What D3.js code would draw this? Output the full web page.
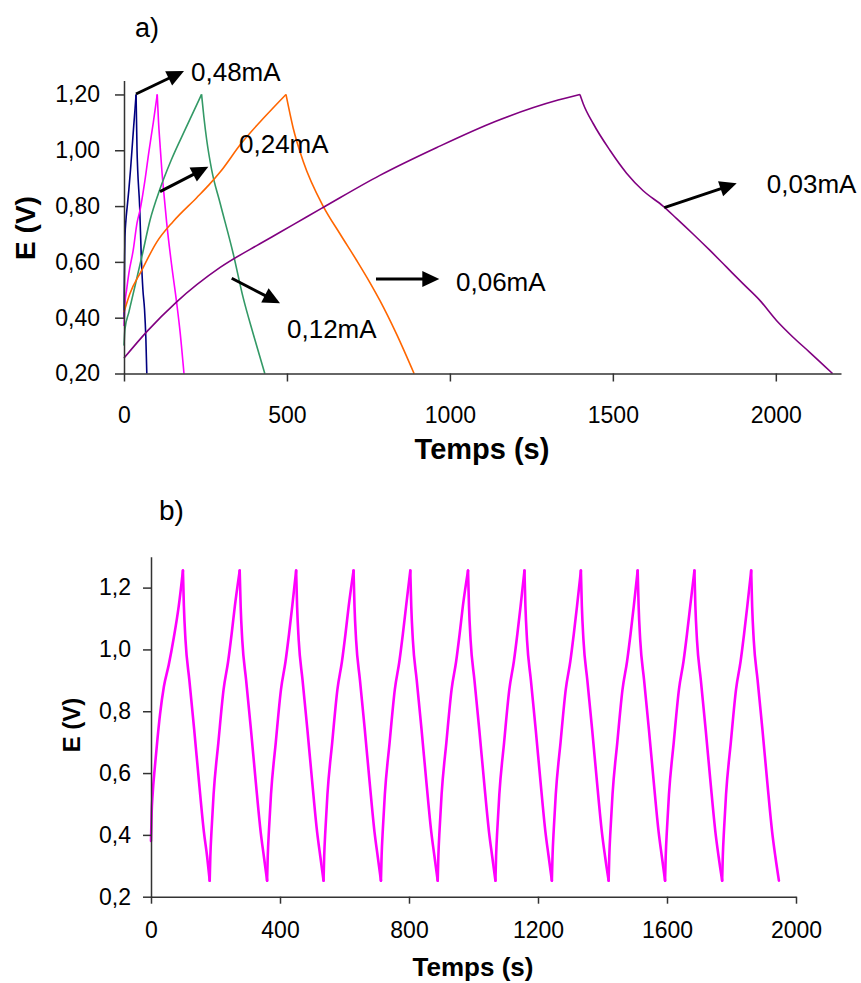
<!DOCTYPE html>
<html>
<head>
<meta charset="utf-8">
<script src="https://cdn.jsdelivr.net/npm/d3@7"></script>
<style>
  body { margin: 0; background: #fff; }
  svg { display: block; }
  text { font-family: "Liberation Sans", Arial, sans-serif; fill: #000; }
</style>
</head>
<body>
<svg id="chart" width="861" height="983"></svg>
<script>
// ---- Panel a) : charge/discharge at five currents, [time (s), E (V)] ----
const seriesNames = ["0,48mA", "0,24mA", "0,12mA", "0,06mA", "0,03mA"];
const seriesColors = ["#000080", "#ff00ff", "#339966", "#ff6600", "#800080"];

const curve048 = [[0,0.40],[1,0.52],[2,0.62],[3,0.69],[6,0.75],[10,0.80],[15,0.86],[20,0.93],[25,1.01],[30,1.09],[34,1.15],[37,1.20],
  [40,1.00],[42,0.93],[48,0.80],[53,0.62],[58,0.50],[63,0.43],[67,0.33],[70,0.20]];
const curve024 = [[0,0.37],[3,0.45],[8,0.50],[15,0.56],[28,0.64],[40,0.74],[50,0.79],[64,0.89],[77,1.00],[90,1.10],[102,1.20],
  [106,1.10],[110,1.03],[116,0.93],[122,0.85],[131,0.74],[146,0.59],[162,0.45],[172,0.35],[184,0.20]];
const curve012 = [[0,0.30],[3,0.36],[15,0.42],[35,0.52],[55,0.62],[80,0.75],[110,0.86],[145,0.965],[190,1.08],[238,1.20],
  [245,1.12],[254,1.035],[269,0.93],[295,0.81],[335,0.63],[366,0.47],[397,0.34],[432,0.20]];
const curve006 = [[0,0.42],[18,0.486],[54,0.569],[100,0.67],[151,0.745],[223,0.83],[260,0.875],[295,0.922],[360,1.025],[432,1.12],[497,1.20],
  [519,1.08],[550,0.96],[611,0.80],[663,0.70],[714,0.605],[755,0.525],[785,0.462],[836,0.342],[890,0.20]];
const curve003 = [[0,0.255],[70,0.35],[160,0.455],[295,0.58],[417,0.665],[480,0.707],[560,0.761],[611,0.795],[785,0.91],[960,1.01],[1143,1.105],[1332,1.18],[1399,1.20],
  [1409,1.167],[1440,1.095],[1491,1.0],[1542,0.918],[1593,0.855],[1654,0.80],[1695,0.756],[1746,0.70],[1798,0.641],[1849,0.581],[1900,0.521],[1951,0.462],[2002,0.39],[2053,0.33],[2104,0.276],[2174,0.20]];
const curvesA = [curve048, curve024, curve012, curve006, curve003];

const xTicksA = [0, 500, 1000, 1500, 2000];
const yTicksA = [0.2, 0.4, 0.6, 0.8, 1.0, 1.2];

// Annotation arrows [t0, v0, t1, v1] and label anchors [t, v], in data units
const arrowsA = [
  [36.8, 1.2016, 184.1, 1.284],
  [110.5, 0.8515, 258.7, 0.9411],
  [330.5, 0.5412, 478.7, 0.4516],
  [773.2, 0.5387, 967.5, 0.5387],
  [1657.8, 0.7942, 1880, 0.8816]
];
const labelPosA = [[205.6, 1.248], [352.9, 0.990], [500.1, 0.327], [1018.7, 0.4956], [1972.3, 0.8468]];
const labelTextA = ["0,48mA", "0,24mA", "0,12mA", "0,06mA", "0,03mA"];

// ---- Panel b) : repeated cycling at one current ----
// first charge from the rest potential, [time (s), E (V)]
const firstCharge = [[0,0.38],[2,0.47],[5,0.53],[12,0.62],[20,0.71],[28,0.79],[40,0.88],[55,0.95],[71,1.04],[86,1.14],[99,1.255]];
// voltage levels and the times at which each half-cycle passes them
const chargeLevels = [0.252, 0.33, 0.42, 0.53, 0.70, 0.87, 0.96, 1.05, 1.14, 1.255];
const dischargeLevels = [1.255, 1.14, 1.03, 0.90, 0.74, 0.57, 0.41, 0.33, 0.252];
const dischargeTimes = [
  [99,102,107,119,134,149,164,174,182],
  [275,278,283,295,310,325,340,350,360],
  [450,453,458,470,485,500,515,525,535],
  [628,631,636,648,663,678,693,703,713],
  [804,807,812,824,839,854,869,879,889],
  [983,986,991,1003,1018,1033,1048,1058,1068],
  [1158,1161,1166,1178,1193,1208,1223,1233,1243],
  [1333,1336,1341,1353,1368,1383,1398,1408,1419],
  [1509,1512,1517,1529,1544,1559,1574,1584,1594],
  [1685,1688,1693,1705,1720,1735,1750,1760,1771],
  [1861,1864,1869,1881,1896,1911,1926,1936,1947]
];
const chargeTimes = [
  [182,184,188,194,209,225,239,250,260,275],
  [360,362,366,372,387,403,417,428,438,450],
  [535,537,541,547,562,578,592,603,613,628],
  [713,715,719,725,740,756,770,781,791,804],
  [889,891,895,901,916,932,946,957,967,983],
  [1068,1070,1074,1080,1095,1111,1125,1136,1146,1158],
  [1243,1245,1249,1255,1270,1286,1300,1311,1321,1333],
  [1419,1421,1425,1431,1446,1462,1476,1487,1497,1509],
  [1594,1596,1600,1606,1621,1637,1651,1662,1672,1685],
  [1771,1773,1777,1783,1798,1814,1828,1839,1849,1861]
];
const xTicksB = [0, 400, 800, 1200, 1600, 2000];
const yTicksB = [0.2, 0.4, 0.6, 0.8, 1.0, 1.2];

// ---- drawing ----
const svg = d3.select("#chart");
svg.append("rect").attr("width", 861).attr("height", 983).attr("fill", "#fff");

const loc = d3.formatLocale({ decimal: ",", thousands: "", grouping: [3], currency: ["", ""] });
const axisColor = "#333";

function styleAxis(g, fontSize) {
  g.selectAll("path.domain").attr("stroke", axisColor).attr("stroke-width", 1.5);
  g.selectAll(".tick line").attr("stroke", axisColor).attr("stroke-width", 1.5);
  g.selectAll(".tick text").attr("font-size", fontSize)
    .attr("font-family", "'Liberation Sans', Arial, sans-serif").attr("fill", "#000");
}

// split a charge/discharge run at its top so each branch is smoothed on its own
function branches(c) {
  const i = d3.maxIndex(c, d => d[1]);
  return [c.slice(0, i + 1), c.slice(i)];
}

// Panel a)
const xA = d3.scaleLinear().domain([0, 2200]).range([124, 841]);
const yA = d3.scaleLinear().domain([0.2, 1.25]).range([373.5, 80.5]);

const lineA = d3.line().x(d => xA(d[0])).y(d => yA(d[1])).curve(d3.curveMonotoneX);
const gA = svg.append("g");
curvesA.forEach((c, i) => {
  branches(c).forEach(b => {
    gA.append("path").datum(b).attr("d", lineA)
      .attr("fill", "none").attr("stroke", seriesColors[i]).attr("stroke-width", 1.6)
      .attr("stroke-linejoin", "round");
  });
});

const axAx = svg.append("g").attr("transform", `translate(0,${yA(0.2)})`)
  .call(d3.axisBottom(xA).tickValues(xTicksA).tickFormat(d3.format("d")).tickSize(8).tickSizeOuter(0).tickPadding(25));
styleAxis(axAx, 23);
const ayAx = svg.append("g").attr("transform", `translate(${xA(0)},0)`)
  .call(d3.axisLeft(yA).tickValues(yTicksA).tickFormat(loc.format(".2f")).tickSize(9).tickSizeOuter(0).tickPadding(15));
styleAxis(ayAx, 23);

function arrow(g, x0, y0, x1, y1) {
  const ang = Math.atan2(y1 - y0, x1 - x0);
  const len = 17, hw = 8;
  const bx = x1 - len * Math.cos(ang), by = y1 - len * Math.sin(ang);
  g.append("line").attr("x1", x0).attr("y1", y0).attr("x2", bx + 2 * Math.cos(ang)).attr("y2", by + 2 * Math.sin(ang))
    .attr("stroke", "#000").attr("stroke-width", 3);
  const px = -Math.sin(ang), py = Math.cos(ang);
  g.append("path")
    .attr("d", `M${x1},${y1}L${bx + hw * px},${by + hw * py}L${bx - hw * px},${by - hw * py}Z`)
    .attr("fill", "#000");
}
arrowsA.forEach(a => arrow(svg, xA(a[0]), yA(a[1]), xA(a[2]), yA(a[3])));
labelPosA.forEach((p, i) => {
  svg.append("text").attr("x", xA(p[0])).attr("y", yA(p[1]))
    .attr("font-size", 26).text(labelTextA[i]);
});

svg.append("text").attr("x", 135).attr("y", 37).attr("font-size", 27).text("a)");
svg.append("text").attr("x", 482).attr("y", 459).attr("text-anchor", "middle")
  .attr("font-size", 29).attr("font-weight", "bold").text("Temps (s)");
svg.append("text").attr("transform", "translate(35,228) rotate(-90)").attr("text-anchor", "middle")
  .attr("font-size", 28).attr("font-weight", "bold").text("E (V)");

// Panel b)
const xB = d3.scaleLinear().domain([0, 2000]).range([151, 796]);
const yB = d3.scaleLinear().domain([0.2, 1.3]).range([896.7, 556.7]);

const halfCycles = [firstCharge];
dischargeTimes.forEach((dt, k) => {
  halfCycles.push(dt.map((t, j) => [t, dischargeLevels[j]]));
  if (k < chargeTimes.length) halfCycles.push(chargeTimes[k].map((t, j) => [t, chargeLevels[j]]));
});
const lineB = d3.line().x(d => xB(d[0])).y(d => yB(d[1])).curve(d3.curveMonotoneX);
const gB = svg.append("g");
halfCycles.forEach(h => {
  gB.append("path").datum(h).attr("d", lineB)
    .attr("fill", "none").attr("stroke", "#ff00ff").attr("stroke-width", 2.6)
    .attr("stroke-linejoin", "round").attr("stroke-linecap", "round");
});

const bxAx = svg.append("g").attr("transform", `translate(0,${yB(0.2)})`)
  .call(d3.axisBottom(xB).tickValues(xTicksB).tickFormat(d3.format("d")).tickSize(7).tickSizeOuter(0).tickPadding(18));
styleAxis(bxAx, 23);
const byAx = svg.append("g").attr("transform", `translate(${xB(0)},0)`)
  .call(d3.axisLeft(yB).tickValues(yTicksB).tickFormat(loc.format(".1f")).tickSize(8).tickSizeOuter(0).tickPadding(12));
styleAxis(byAx, 23);

svg.append("text").attr("x", 159).attr("y", 520).attr("font-size", 28).text("b)");
svg.append("text").attr("x", 473).attr("y", 976).attr("text-anchor", "middle")
  .attr("font-size", 26).attr("font-weight", "bold").text("Temps (s)");
svg.append("text").attr("transform", "translate(80,725) rotate(-90)").attr("text-anchor", "middle")
  .attr("font-size", 24).attr("font-weight", "bold").text("E (V)");
</script>
</body>
</html>
